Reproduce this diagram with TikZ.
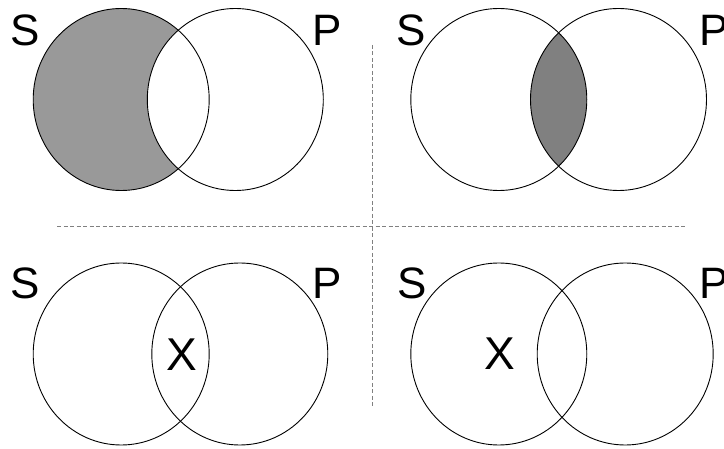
\documentclass[tikz,border=0pt]{standalone}
\usepackage{fontspec}
\setmainfont{Liberation Sans}
\begin{document}
\begin{tikzpicture}[x=1pt,y=-1pt,
  set/.style={draw=black,line width=0.9pt},
  lbl/.style={font=\fontsize{44}{44}\selectfont,inner sep=0pt},
  xlbl/.style={font=\fontsize{46}{46}\selectfont,inner sep=0pt},
  divider/.style={draw=black!50,line width=1pt,dash pattern=on 4pt off 2.5pt}]
\useasboundingbox (0,0) rectangle (724,449);
\def\rx{88}\def\ry{91}

% Top left: S without P shaded
\fill[black!40] (121.2,99.5) ellipse [x radius=\rx,y radius=\ry];
\fill[white] (235.3,99.5) ellipse [x radius=\rx,y radius=\ry];
\draw[set] (121.2,99.5) ellipse [x radius=\rx,y radius=\ry];
\draw[set] (235.3,99.5) ellipse [x radius=\rx,y radius=\ry];
\node[lbl] (s1) at (25.5,30) {S};
\node[lbl] (p1) at (327.5,30) {P};

% Top right: S and P overlap shaded
\begin{scope}
  \clip (498.8,99.5) ellipse [x radius=\rx,y radius=\ry];
  \fill[black!50] (618.5,99.5) ellipse [x radius=\rx,y radius=\ry];
\end{scope}
\draw[set] (498.8,99.5) ellipse [x radius=\rx,y radius=\ry];
\draw[set] (618.5,99.5) ellipse [x radius=\rx,y radius=\ry];
\node[lbl] (s2) at (411,30) {S};
\node[lbl] (p2) at (714,30) {P};

% Bottom left: X in the overlap
\draw[set] (121.2,354) ellipse [x radius=\rx,y radius=\ry];
\draw[set] (239.8,354) ellipse [x radius=\rx,y radius=\ry];
\node[lbl] (s3) at (25.5,283.5) {S};
\node[lbl] (p3) at (327.5,283.5) {P};
\node[xlbl] (x3) at (182,355) {X};

% Bottom right: X in S only
\draw[set] (498.8,354) ellipse [x radius=\rx,y radius=\ry];
\draw[set] (625.2,354) ellipse [x radius=\rx,y radius=\ry];
\node[lbl] (s4) at (411.7,283.5) {S};
\node[lbl] (p4) at (714.5,283.5) {P};
\node[xlbl] (x4) at (499.5,354) {X};

% Dividers between the four panels
\coordinate (vtop) at (372,45);
\coordinate (vbot) at (372,407);
\coordinate (hleft) at (57,227);
\coordinate (hright) at (687,227);
\draw[divider] (vtop) -- (vbot);
\draw[divider] (hleft) -- (hright);
\end{tikzpicture}
\end{document}
